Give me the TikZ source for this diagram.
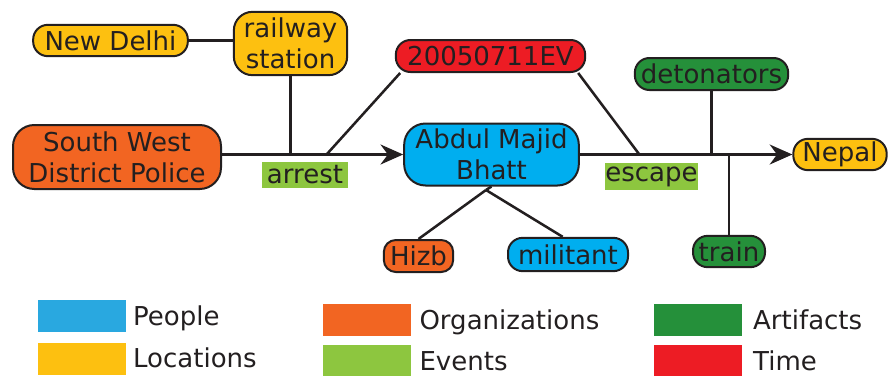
\documentclass[tikz,border=0pt]{standalone}
\usepackage{fontspec}
\setmainfont{DejaVu Sans}
\usepackage{tikz}
\usepackage{xcolor}
\usetikzlibrary{positioning, arrows.meta}
\definecolor{ink}{HTML}{231F20}
\definecolor{pplblue}{HTML}{00AEEF}
\definecolor{keyblue}{HTML}{29A8E0}
\definecolor{locyellow}{HTML}{FDC010}
\definecolor{orgorange}{HTML}{F26522}
\definecolor{evtgreen}{HTML}{8DC63F}
\definecolor{artgreen}{HTML}{25903A}
\definecolor{timered}{HTML}{ED1C24}
\begin{document}
\begin{tikzpicture}[x=0.75pt,y=-0.75pt,
  every node/.style={text=ink, font=\fontsize{19.5}{23.5}\selectfont},
  ent/.style={draw=ink, line width=1.5pt, rounded corners=11pt, inner sep=0pt, align=center},
  evt/.style={inner sep=0pt},
  link/.style={draw=ink, line width=1.9pt},
  arr/.style={-{Stealth[length=17pt,width=15pt]}},
  key/.style={minimum width=66pt, minimum height=24pt, inner sep=0pt},
  keytext/.style={inner sep=0pt, text height=14.2pt, text depth=0pt}]
\useasboundingbox (0,0) rectangle (889,375);

% entities
\node[ent, fill=locyellow, minimum width=116pt, minimum height=23.5pt] (nd) at (110.5,40.5) {New Delhi};
\node[ent, fill=locyellow, minimum width=85pt, minimum height=47.5pt, rounded corners=14pt] (rs) at (290.5,43.5) {railway\\station};
\node[ent, fill=orgorange, minimum width=156pt, minimum height=48pt, rounded corners=16pt] (swdp) at (117,157) {South West\\District Police};
\node[ent, fill=timered, minimum width=142pt, minimum height=24pt] (ev) at (490.5,56) {20050711EV};
\node[ent, fill=artgreen, minimum width=115pt, minimum height=24pt] (det) at (711.5,74) {detonators};
\node[ent, fill=pplblue, minimum width=131pt, minimum height=46.5pt, rounded corners=16pt] (abd) at (491.5,154.5) {Abdul Majid\\Bhatt};
\node[ent, fill=locyellow, minimum width=70pt, minimum height=23.5pt] (np) at (840,154.5) {Nepal};
\node[ent, fill=orgorange, minimum width=52pt, minimum height=24pt, rounded corners=9pt] (hz) at (418.5,256) {Hizb};
\node[ent, fill=pplblue, minimum width=90pt, minimum height=25pt] (mil) at (568,254.5) {militant};
\node[ent, fill=artgreen, minimum width=54pt, minimum height=23.5pt] (tr) at (729,251.5) {train};

% events
\node[evt, fill=evtgreen, minimum width=64.5pt, minimum height=19.5pt] (arst) at (305,175) {arrest};
\node[evt, fill=evtgreen, minimum width=69.75pt, minimum height=20.25pt] (esc) at (651.5,176.5) {escape};

\coordinate (arrfoot) at (327,154);
\coordinate (escfoot) at (639,154);
\coordinate (abdfoot) at (486,190);

\draw[link] (nd.east) -- (nd.east -| rs.west);
\draw[link] (rs) -- (rs |- abd.west);
\draw[link, arr] (swdp.east |- abd.west) -- (abd.west);
\draw[link] ([xshift=4pt]ev.south west) -- (arrfoot);
\draw[link] ([xshift=-6pt]ev.south east) -- (escfoot);
\draw[link, arr] (abd.east) -- (np.west);
\draw[link] (det) -- (det |- abd.east);
\draw[link] (tr) -- ([yshift=-1pt]tr |- abd.east);
\draw[link] (abd.south) -- (abdfoot);
\draw[link] (abdfoot) -- (hz.north);
\draw[link] (abdfoot) -- ([xshift=-4pt]mil.north);

% legend
\node[key, fill=keyblue] (kppl) at (82,316) {};
\node[key, fill=locyellow] (kloc) at (82,358.5) {};
\node[key, fill=orgorange] (korg) at (367,320) {};
\node[key, fill=evtgreen] (kevt) at (367,361) {};
\node[key, fill=artgreen] (kart) at (698,320) {};
\node[key, fill=timered] (ktim) at (698,361) {};
\node[keytext, right=5pt of kppl] {People};
\node[keytext, right=5pt of kloc] {Locations};
\node[keytext, right=6pt of korg] {Organizations};
\node[keytext, right=6pt of kevt] {Events};
\node[keytext, right=8pt of kart] {Artifacts};
\node[keytext, right=8pt of ktim] {Time};
\end{tikzpicture}
\end{document}
